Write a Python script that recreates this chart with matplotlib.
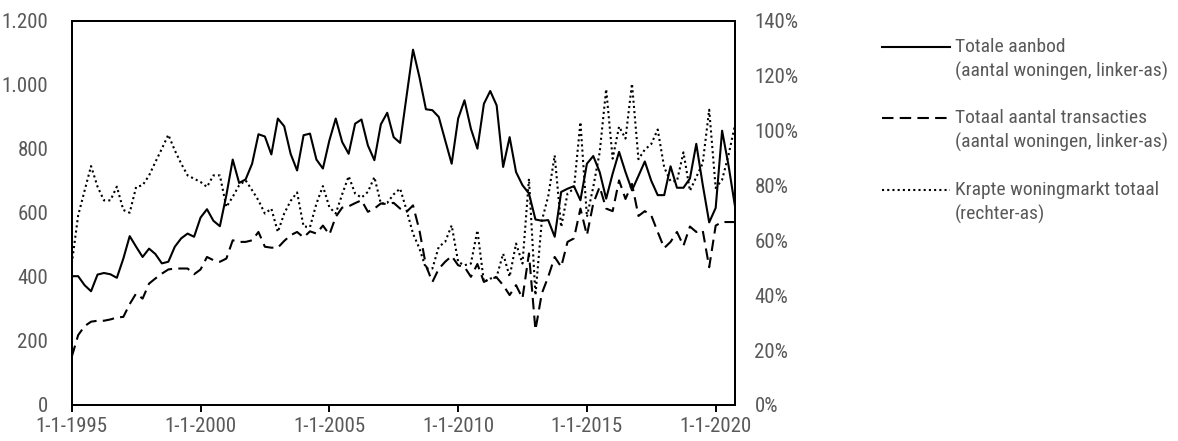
import matplotlib
matplotlib.use("Agg")
import matplotlib.pyplot as plt
from matplotlib import font_manager
from matplotlib.lines import Line2D
from matplotlib.ticker import FuncFormatter, MultipleLocator
import pandas as pd

# quarterly data, 1995 Q1 - 2020 Q4
aanbod = [402, 402, 374, 355, 407, 412, 408, 397, 457, 527, 494, 462, 488, 471, 442, 447,
          494, 520, 535, 525, 585, 611, 575, 558, 655, 766, 693, 704, 753, 845, 838, 782,
          894, 870, 784, 732, 842, 847, 766, 738, 826, 894, 821, 784, 878, 891, 810, 764,
          876, 912, 836, 818, 965, 1109, 1023, 923, 920, 899, 826, 753, 894, 951, 862, 800,
          940, 980, 935, 743, 836, 727, 686, 660, 579, 575, 577, 525, 665, 675, 683, 639,
          753, 777, 727, 644, 722, 790, 727, 670, 715, 760, 700, 655, 655, 745, 678, 678,
          707, 815, 688, 570, 615, 856, 748, 620]
transacties = [151, 218, 246, 260, 263, 263, 267, 273, 275, 315, 348, 332, 379, 395, 410, 423,
               426, 426, 426, 408, 423, 462, 452, 447, 457, 514, 509, 509, 514, 540, 494, 491,
               491, 512, 530, 540, 523, 542, 535, 560, 532, 587, 616, 620, 630, 639, 603, 613,
               629, 627, 631, 613, 603, 623, 545, 435, 384, 425, 447, 465, 436, 431, 400, 440,
               384, 395, 398, 374, 343, 374, 333, 473, 234, 348, 400, 462, 431, 509, 520, 613,
               530, 629, 681, 613, 605, 701, 643, 690, 590, 605, 592, 540, 490, 509, 540, 497,
               557, 540, 545, 430, 560, 571, 571, 571]
krapte = [51.5, 69, 78, 87, 79.5, 74.5, 74.5, 79.5, 71, 70, 79.4, 80, 83.6, 88.5, 93.3, 98.4,
          92.7, 87.9, 83.6, 82.4, 81.2, 79.4, 83.6, 83.6, 72.1, 75.8, 80, 81.8, 78.2, 74.5, 69.7, 71.5,
          63, 69.7, 74.3, 77.4, 65, 64.8, 73.3, 79.7, 72, 69.7, 76.7, 83.3, 77, 75.5, 77.6, 83,
          73.3, 73.6, 76.7, 78.8, 70.9, 62.4, 57, 49.7, 49.7, 57.6, 59.4, 65.4, 52.1, 50.9, 51.5, 63.6,
          44.8, 46, 46.7, 55.1, 46.7, 58.8, 51.5, 82.4, 40, 67, 76, 90.9, 64.8, 77, 78.8, 103,
          68.5, 79.4, 92, 115, 89.7, 101.4, 97, 117, 89.5, 93, 95, 100.3, 86.5, 81.5, 81.5, 92,
          78, 83, 88, 107.5, 79, 82, 91, 102]

dates = pd.date_range("1995-01-01", periods=len(aanbod), freq="QS")
tick_dates = pd.to_datetime(["1995-01-01", "2000-01-01", "2005-01-01",
                             "2010-01-01", "2015-01-01", "2020-01-01"])

legend_items = [
    ("Totale aanbod", "(aantal woningen, linker-as)"),
    ("Totaal aantal transacties", "(aantal woningen, linker-as)"),
    ("Krapte woningmarkt totaal", "(rechter-as)"),
]

# the original uses a narrow sans; take a condensed face if one is installed
narrow = None
for f in font_manager.fontManager.ttflist:
    low = f.fname.lower()
    if ("narrow" in low or "condensed" in low) and "bold" not in low \
            and "oblique" not in low and "italic" not in low:
        narrow = f
        if "liberation" in low or "arial" in low:
            break

if narrow is not None:
    plt.rcParams['font.family'] = [narrow.name, 'Liberation Sans', 'DejaVu Sans']
    plt.rcParams['font.stretch'] = narrow.stretch
    FS = 15 if "dejavu" not in narrow.fname.lower() else 13.5
else:
    plt.rcParams['font.family'] = ['Liberation Sans', 'DejaVu Sans']
    FS = 12.8
LEG_FS = FS - 1

GREY = '#595959'
W, H = 1178, 441

fig = plt.figure(figsize=(W / 100, H / 100), dpi=100)
ax = fig.add_axes([71.8 / W, 1 - 405 / H, (735 - 71.8) / W, (405 - 20.5) / H])
ax2 = ax.twinx()

solid_style = dict(color='black', lw=1.5, linestyle='-')
dash_style = dict(color='black', lw=1.5, linestyle=(0, (5.5, 3)))
dot_style = dict(color='black', lw=1.5, linestyle=(0, (1, 1.5)))

ax.plot(dates, aanbod, **solid_style)
ax.plot(dates, transacties, **dash_style)
ax2.plot(dates, [v / 100 for v in krapte], **dot_style)

ax.set_xlim(dates[0], dates[-1])
ax.set_ylim(0, 1200)
ax2.set_ylim(0, 1.4)

ax.yaxis.set_major_locator(MultipleLocator(200))
ax.yaxis.set_major_formatter(FuncFormatter(lambda v, p: f"{int(v):,}".replace(",", ".")))
ax2.yaxis.set_major_locator(MultipleLocator(0.2))
ax2.yaxis.set_major_formatter(FuncFormatter(lambda v, p: f"{v * 100:.0f}%"))

ax.set_xticks(tick_dates)
ax.set_xticklabels([f"{d.day}-{d.month}-{d.year}" for d in tick_dates])

ax.tick_params(axis='x', direction='out', length=5, width=1.4, colors='black',
               labelcolor=GREY, labelsize=FS, pad=4)
ax.tick_params(axis='y', length=0, labelcolor=GREY, labelsize=FS, pad=17)
ax2.tick_params(axis='y', length=0, labelcolor=GREY, labelsize=FS, pad=14)

for a in (ax, ax2):
    for s in a.spines.values():
        s.set_linewidth(1.4)
        s.set_color('black')

# legend drawn by hand so the line sits at the first text line
styles = [solid_style, dash_style, dot_style]
rows = [47, 118, 190]
for (l1, l2), st, y in zip(legend_items, styles, rows):
    fig.add_artist(Line2D([882 / W, 950 / W], [1 - y / H, 1 - y / H],
                          transform=fig.transFigure, **st))
    fig.text(955 / W, 1 - y / H, l1, va='center', ha='left', color=GREY, fontsize=LEG_FS)
    fig.text(955 / W, 1 - (y + 24) / H, l2, va='center', ha='left', color=GREY, fontsize=LEG_FS)

fig.savefig("out.png", dpi=100)
